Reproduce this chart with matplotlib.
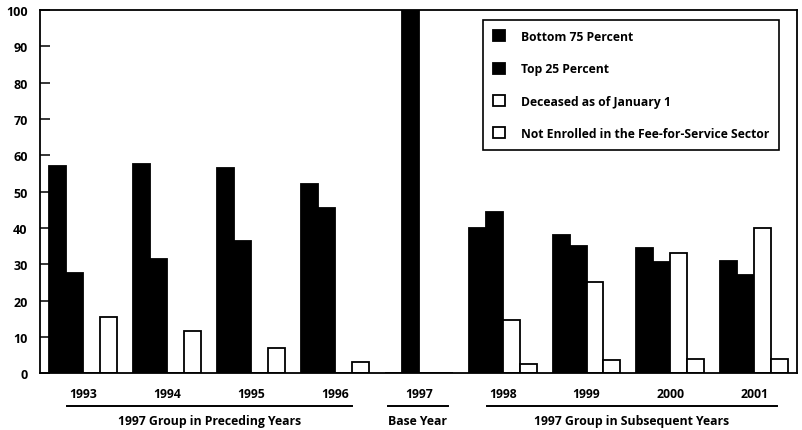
import numpy as np
import matplotlib.pyplot as plt

years = ['1993', '1994', '1995', '1996', '1997', '1998', '1999', '2000', '2001']
bottom75 = [57, 57.5, 56.5, 52, 0, 40, 38, 34.5, 31]
top25 = [27.5, 31.5, 36.5, 45.5, 100, 44.5, 35, 30.5, 27]
deceased = [0, 0, 0, 0, 0, 14.5, 25, 33, 40]
not_enrolled = [15.5, 11.5, 7, 3, 0, 2.5, 3.5, 4, 4]

series = [
    ('Bottom 75 Percent', bottom75, 'black'),
    ('Top 25 Percent', top25, 'black'),
    ('Deceased as of January 1', deceased, 'white'),
    ('Not Enrolled in the Fee-for-Service Sector', not_enrolled, 'white'),
]

groups = [
    ('1997 Group in Preceding Years', -0.19, 3.21),
    ('Base Year', 3.63, 4.35),
    ('1997 Group in Subsequent Years', 4.81, 8.27),
]

plt.rcParams['font.family'] = ['Open Sans', 'DejaVu Sans']
plt.rcParams['font.weight'] = 'bold'

fig = plt.figure(figsize=(8.02, 4.31), dpi=100)
ax = fig.add_axes([0.05, 0.132, 0.944, 0.842])

x = np.arange(len(years))
w = 17 / 84
handles = []
for k, (label, vals, color) in enumerate(series):
    h = ax.bar(x + (k - 1.5) * w, vals, w, color=color, edgecolor='black',
               linewidth=1.3, label=label)
    handles.append(h)

ax.set_xlim(-0.51, 8.51)
ax.set_ylim(0, 100)
ax.set_yticks(np.arange(0, 101, 10))
ax.tick_params(axis='y', direction='in', length=7, width=1.1, pad=9, labelsize=9)
ax.set_xticks([])
for s in ax.spines.values():
    s.set_linewidth(1.3)

# year labels and group brackets below the axis
for i, yr in enumerate(years):
    ax.text(x[i], -5.6, yr, ha='center', va='center', fontsize=8.8, fontweight='bold')
for title, x0, x1 in groups:
    ax.plot([x0, x1], [-9.2, -9.2], color='black', lw=1.4, clip_on=False)
    ax.text((x0 + x1) / 2, -13.0, title, ha='center', va='center', fontsize=8.8,
            fontweight='bold')

leg = ax.legend(handles=handles, loc='upper left', bbox_to_anchor=(0.585, 0.972),
                fancybox=False, edgecolor='black', framealpha=1, fontsize=8.7,
                handlelength=1.0, handleheight=1.0, labelspacing=1.6,
                borderpad=0.8, handletextpad=1.35, borderaxespad=0)
leg.get_frame().set_linewidth(1.2)

fig.savefig('out.png', dpi=100)
